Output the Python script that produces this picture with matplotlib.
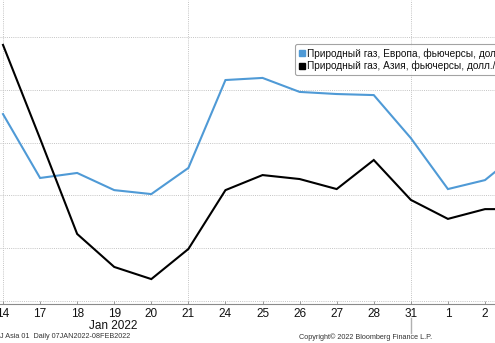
import matplotlib

matplotlib.use("Agg")
import matplotlib.pyplot as plt
from matplotlib.lines import Line2D
from matplotlib.transforms import blended_transform_factory

plt.rcParams["font.family"] = ["Liberation Sans", "DejaVu Sans"]

# Trading days, 14 Jan - 3 Feb 2022
day_labels = ["14", "17", "18", "19", "20", "21", "24", "25", "26", "27", "28", "31", "1", "2", "3"]
europe = [31.08, 28.66, 28.85, 28.20, 28.05, 29.04, 32.37, 32.45, 31.92, 31.84, 31.80,
          30.17, 28.24, 28.58, 29.72]
asia = [33.70, 30.15, 26.54, 25.29, 24.83, 25.97, 28.20, 28.77, 28.62, 28.24, 29.34,
        27.83, 27.11, 27.48, 27.48]
grid_days = ["14", "21", "31"]
grid_levels = [24, 26, 28, 30, 32, 34]

label_europe = "Природный газ, Европа, фьючерсы, долл./MMBtu"
label_asia = "Природный газ, Азия, фьючерсы, долл./MMBtu"

blue = "#4f9ad6"
W, H = 495, 343

fig = plt.figure(figsize=(W / 100, H / 100), dpi=100)
ax = fig.add_axes([0, (H - 304) / H, 1, 304 / H])

x = list(range(len(day_labels)))
ax.plot(x, europe, color=blue, lw=1.5, solid_joinstyle="miter")
ax.plot(x, asia, color="black", lw=1.5, solid_joinstyle="miter")

px = 482 / 13
ax.set_xlim(-3 / px, 13 + 10 / px)
ppu = 26.4
ax.set_ylim(24 - 3 / ppu, 34 + 37 / ppu)

for lvl in grid_levels:
    ax.axhline(lvl, color="#c4c4c4", lw=0.7, ls=(0, (1, 1.2)), zorder=0)
for d in grid_days:
    ax.axvline(day_labels.index(d), color="#c4c4c4", lw=0.7, ls=(0, (1, 1.2)), zorder=0)

for side in ["top", "left", "right"]:
    ax.spines[side].set_visible(False)
ax.spines["bottom"].set_color("#8a8a8a")
ax.spines["bottom"].set_linewidth(0.8)

ax.set_yticks([])
ax.set_xticks(x[:14])
ax.set_xticklabels(day_labels[:14], fontsize=8.5, color="#111111")
ax.tick_params(axis="x", direction="in", length=2.5, width=0.6, color="#8a8a8a", pad=3)

# month label and Jan/Feb separator
trans = blended_transform_factory(ax.transData, fig.transFigure)
fig.text(113.5 / W, 1 - 326 / H, "Jan 2022", fontsize=8.5, color="#111111",
         ha="center", va="center")
ax.plot([day_labels.index("31")] * 2, [1 - 318 / H, 1 - 333 / H], transform=trans,
        color="#b0b0b0", lw=1.0, clip_on=False)

fig.text(0, 1 - 337 / H, "J Asia 01  Daily 07JAN2022-08FEB2022", fontsize=5.2,
         color="#333333", ha="left", va="center")
fig.text(366 / W, 1 - 337 / H, "Copyright\u00a9 2022 Bloomberg Finance L.P.", fontsize=5.2,
         color="#333333", ha="center", va="center")

handles = [
    Line2D([], [], ls="none", marker="s", markersize=5, color=blue),
    Line2D([], [], ls="none", marker="s", markersize=5, color="black"),
]
leg = fig.legend(handles, [label_europe, label_asia], loc="upper left",
                 bbox_to_anchor=(295 / W, 1 - 44 / H), fontsize=7.3, frameon=True,
                 handlelength=0.6, handletextpad=0.2, labelspacing=0.2,
                 borderpad=0.4, borderaxespad=0, fancybox=True)
leg.get_frame().set_edgecolor("#8c8c8c")
leg.get_frame().set_linewidth(0.8)
for t in leg.get_texts():
    t.set_color("#111111")

fig.savefig("out.png", dpi=100)
